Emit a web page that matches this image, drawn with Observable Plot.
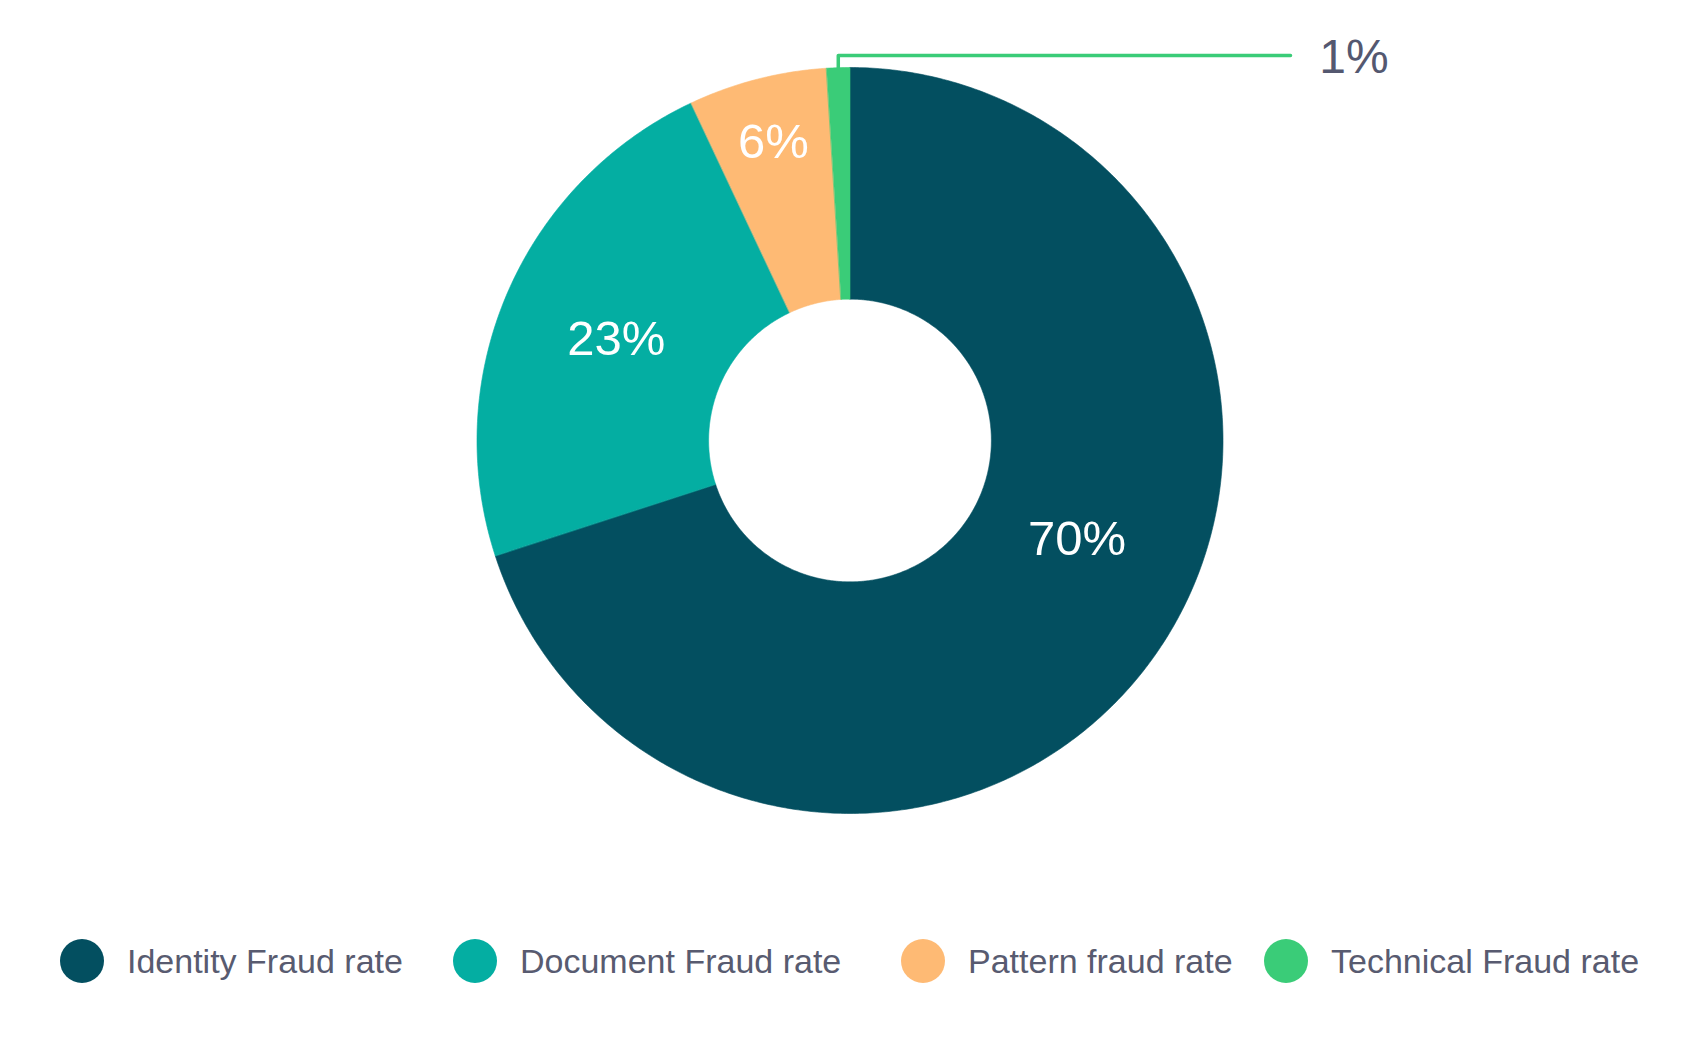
<!DOCTYPE html>
<html>
<head>
<meta charset="utf-8">
<script src="https://cdn.jsdelivr.net/npm/d3@7"></script>
<script src="https://cdn.jsdelivr.net/npm/@observablehq/plot@0.6"></script>
<style>
  html, body { margin: 0; padding: 0; background: #ffffff; }
  body { font-family: "Liberation Sans", Arial, sans-serif; width: 1701px; }
  #legend { position: relative; height: 44px; margin-top: 39px; }
  .item { position: absolute; top: 0; display: flex; align-items: center; }
  .swatch { width: 44px; height: 44px; border-radius: 50%; margin-right: 23px; }
  .lab { font-size: 34px; color: #585b70; line-height: 44px; white-space: nowrap; }
</style>
</head>
<body>
<div id="chart"></div>
<div id="legend"></div>
<script>
// ---- data ----
const categories = ["Identity Fraud rate", "Document Fraud rate", "Pattern fraud rate", "Technical Fraud rate"];
const values = [70, 23, 6, 1];
const valueLabels = ["70%", "23%", "6%", "1%"];
const colors = ["#034f60", "#04aea2", "#feba74", "#3acc78"];

// ---- layout (not data) ----
const W = 1701, H = 900, R = 373, CX = 849.5, CY = 440;
const innerFrac = 0.379;
// label placement inside the ring: ring fraction and angle shift (degrees)
const labelPlacement = {
  "Identity Fraud rate": {t: 0.459, shift: -12.5},
  "Document Fraud rate": {t: 0.489, shift: 0},
  "Pattern fraud rate": {t: 0.718, shift: 0}
};
const callout = {elbow: 1.032, end: 1.181, text: 1.258};
const legendLeft = [60, 453, 901, 1264];

// ---- pie geometry ----
const total = d3.sum(values);
let acc = 0;
const slices = categories.map((c, i) => {
  const a0 = acc / total * 360;
  acc += values[i];
  const a1 = acc / total * 360;
  return {cat: c, value: values[i], label: valueLabels[i], a0, a1, mid: (a0 + a1) / 2};
});
const rad = (deg) => deg * Math.PI / 180;
const pt = (r, deg) => ({x: r * Math.sin(rad(deg)), y: r * Math.cos(rad(deg))});

const ringPoints = [];
for (const s of slices) {
  const n = Math.max(2, Math.ceil((s.a1 - s.a0) / 0.5));
  for (let k = 0; k <= n; k++) ringPoints.push({cat: s.cat, ...pt(1, s.a0 + (s.a1 - s.a0) * k / n)});
  for (let k = n; k >= 0; k--) ringPoints.push({cat: s.cat, ...pt(innerFrac, s.a0 + (s.a1 - s.a0) * k / n)});
}

const insideLabels = slices.filter(s => labelPlacement[s.cat]).map(s => {
  const p = labelPlacement[s.cat];
  const r = innerFrac + (1 - innerFrac) * p.t;
  return {label: s.label, ...pt(r, s.mid + p.shift)};
});

const outside = slices.filter(s => !labelPlacement[s.cat]);
const leaderPoints = [];
const outsideLabels = [];
for (const s of outside) {
  const p0 = pt(1, s.mid);
  leaderPoints.push({cat: s.cat, x: p0.x, y: p0.y});
  leaderPoints.push({cat: s.cat, x: p0.x, y: callout.elbow});
  leaderPoints.push({cat: s.cat, x: callout.end, y: callout.elbow});
  outsideLabels.push({label: s.label, x: callout.text, y: callout.elbow});
}

const chart = Plot.plot({
  width: W,
  height: H,
  marginLeft: CX - R,
  marginRight: W - CX - R,
  marginTop: CY - R,
  marginBottom: H - CY - R,
  x: {domain: [-1, 1], axis: null},
  y: {domain: [-1, 1], axis: null},
  color: {domain: categories, range: colors},
  style: {fontFamily: "'Liberation Sans', Arial, sans-serif", background: "#ffffff", overflow: "visible"},
  marks: [
    Plot.line(ringPoints, {x: "x", y: "y", z: "cat", fill: "cat", stroke: "cat", strokeWidth: 0.6, curve: "linear-closed"}),
    Plot.line(leaderPoints, {x: "x", y: "y", z: "cat", stroke: "cat", strokeWidth: 3.5, curve: "linear"}),
    Plot.text(insideLabels, {x: "x", y: "y", text: "label", fill: "#ffffff", fontSize: 49}),
    Plot.text(outsideLabels, {x: "x", y: "y", text: "label", fill: "#545870", fontSize: 48, dy: 2, textAnchor: "start"})
  ]
});
document.getElementById("chart").appendChild(chart);

// ---- legend ----
const legend = document.getElementById("legend");
categories.forEach((c, i) => {
  const item = document.createElement("div");
  item.className = "item";
  item.style.left = legendLeft[i] + "px";
  const sw = document.createElement("div");
  sw.className = "swatch";
  sw.style.background = colors[i];
  const lab = document.createElement("span");
  lab.className = "lab";
  lab.textContent = c;
  item.appendChild(sw);
  item.appendChild(lab);
  legend.appendChild(item);
});
</script>
</body>
</html>
